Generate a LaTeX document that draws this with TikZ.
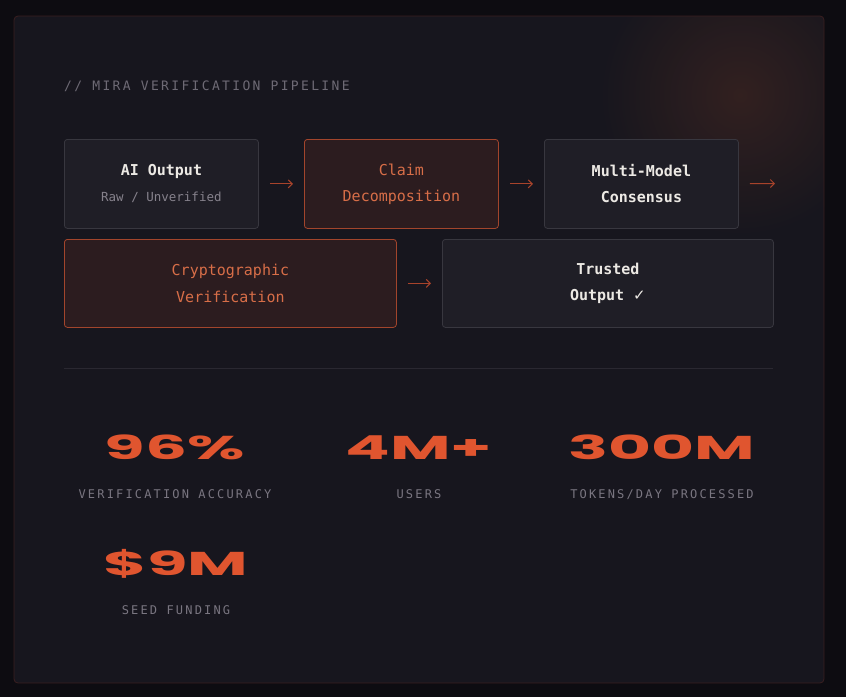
\documentclass[tikz,border=0pt]{standalone}
\usepackage{fontspec}
\usepackage{xcolor}
\usepackage{tikz}
\usetikzlibrary{arrows.meta,positioning,shadings}

\newfontfamily\boxfont{DejaVu Sans Mono}
\newfontfamily\capsfont[LetterSpace=18]{DejaVu Sans Mono}
\newfontfamily\numfont{Poppins}
\newfontfamily\symbfont{DejaVu Sans}

\definecolor{pagebg}{HTML}{0D0C11}
\definecolor{cardbg}{HTML}{17161E}
\definecolor{cardline}{HTML}{3A1F20}
\definecolor{glow}{HTML}{32201F}
\definecolor{boxfill}{HTML}{1F1E26}
\definecolor{boxline}{HTML}{38373F}
\definecolor{hotfill}{HTML}{2C1C1F}
\definecolor{hotline}{HTML}{A2452C}
\definecolor{hottext}{HTML}{D86E48}
\definecolor{softwhite}{HTML}{ECE9E4}
\definecolor{dimgray}{HTML}{86828C}
\definecolor{titlegray}{HTML}{6E6A75}
\definecolor{labelgray}{HTML}{7A7681}
\definecolor{arrowred}{HTML}{A8432B}
\definecolor{numorange}{HTML}{E0552F}
\definecolor{divline}{HTML}{2A2831}

\tikzset{
  plainbox/.style={draw=boxline, fill=boxfill, rounded corners=3pt, line width=0.8pt,
    inner sep=0pt, align=center, anchor=north west, text=softwhite,
    font=\boxfont\fontsize{15}{26}\selectfont},
  hotbox/.style={plainbox, draw=hotline, fill=hotfill, text=hottext},
  flow/.style={draw=arrowred, line width=1pt, -{Straight Barb[length=4pt,width=8pt]},
    shorten <=11pt, shorten >=11pt},
  bignum/.style={text=numorange, inner sep=0pt, anchor=base, xscale=2,
    font=\numfont\bfseries\fontsize{33}{33}\selectfont},
  statlabel/.style={text=labelgray, inner sep=0pt, anchor=base, font=\capsfont\fontsize{12}{12}\selectfont},
}

\begin{document}
\begin{tikzpicture}[x=1pt,y=-1pt]
\useasboundingbox (0,0) rectangle (846,697);
\fill[pagebg] (0,0) rectangle (846,697);

% card with the warm glow in the corner
\begin{scope}
\clip[rounded corners=4pt] (14,16) rectangle (824,683);
\fill[cardbg] (14,16) rectangle (824,683);
\shade[inner color=glow, outer color=cardbg] (740,95) circle (140);
\end{scope}
\draw[cardline, line width=0.8pt, rounded corners=4pt] (14,16) rectangle (824,683);

\node[anchor=west, inner sep=0pt, text=titlegray, font=\capsfont\fontsize{13}{13}\selectfont]
  (title) at (64,86) {// MIRA VERIFICATION PIPELINE};

% pipeline
\node[plainbox, minimum width=194pt, minimum height=89pt] (aiout) at (64,139)
  {{\bfseries AI Output}\\{\fontsize{12.5}{26}\selectfont\color{dimgray}Raw / Unverified}};
\node[hotbox, minimum width=194pt, minimum height=89pt] (claim) at (304,139)
  {Claim\\Decomposition};
\node[plainbox, minimum width=194pt, minimum height=89pt] (consensus) at (544,139)
  {\bfseries Multi-Model\\\bfseries Consensus};
\coordinate (tail) at (786,183.5);

\node[hotbox, minimum width=332pt, minimum height=88pt] (crypto) at (64,239)
  {Cryptographic\\Verification};
\node[plainbox, minimum width=331pt, minimum height=88pt] (trusted) at (442,239)
  {\bfseries Trusted\\\bfseries Output {\symbfont ✓}};

\draw[flow] (aiout) -- (claim);
\draw[flow] (claim) -- (consensus);
\draw[flow] (consensus) -- (tail);
\draw[flow] (crypto) -- (trusted);

\draw[divline, line width=0.8pt] (64,368) -- (773,368);

% stats
\foreach \cx/\cy/\num/\lbl/\nm in {175/447/96\%/VERIFICATION ACCURACY/acc,
    419/447/4M+/USERS/users, 662/447/300M/{TOKENS/DAY PROCESSED}/tokens,
    176/563/\$9M/SEED FUNDING/seed} {
\node[bignum] (num-\nm) at (\cx,\cy+12) {\num};
\node[statlabel] (lbl-\nm) at (\cx,\cy+51) {\lbl};
}
\end{tikzpicture}
\end{document}
